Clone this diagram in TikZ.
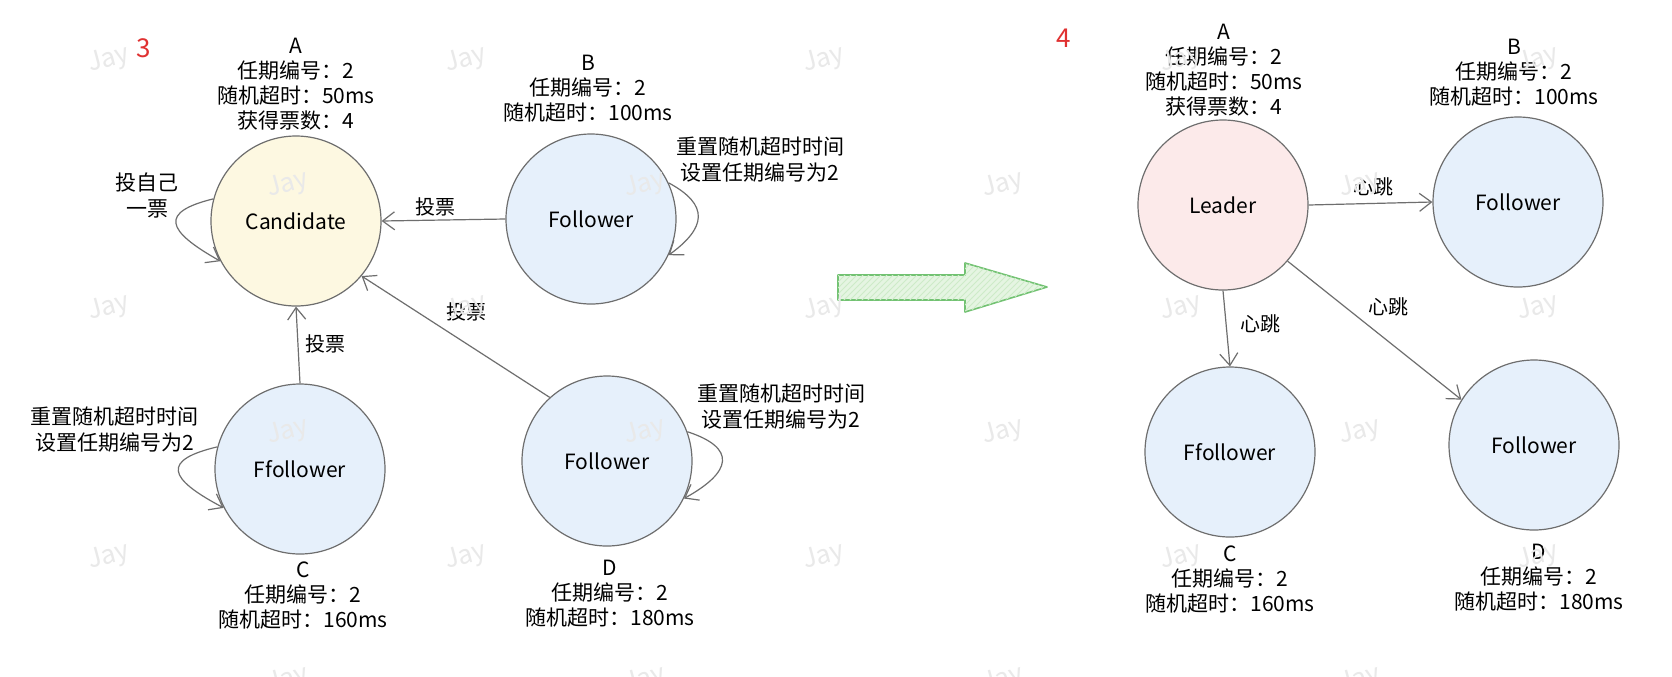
\documentclass[tikz,border=0pt]{standalone}
\usepackage{fontspec}
\setmainfont{Noto Sans CJK SC}
\usetikzlibrary{arrows.meta,patterns}

\definecolor{edgegray}{HTML}{6E6E6E}
\definecolor{candfill}{HTML}{FDF8E1}
\definecolor{follfill}{HTML}{E6F0FB}
\definecolor{leadfill}{HTML}{FCEAEA}
\definecolor{arrowgreen}{HTML}{72C272}
\definecolor{arrowfill}{HTML}{E5F5E2}
\definecolor{hatchgreen}{HTML}{CDEBC8}
\definecolor{markred}{HTML}{E03131}
\definecolor{wmgray}{HTML}{E9E9E9}

\begin{document}
\begin{tikzpicture}[x=0.5pt,y=-0.5pt,
  stnode/.style={circle, draw=edgegray, line width=0.6pt, minimum size=85pt,
    inner sep=0pt, font=\fontsize{10.5}{12}\selectfont},
  info/.style={align=center, font=\fontsize{10.5}{12.5}\selectfont, inner sep=0pt},
  note/.style={align=center, font=\fontsize{10.5}{13}\selectfont, inner sep=0pt},
  link/.style={draw=edgegray, line width=0.6pt, -{Straight Barb[length=6pt,width=9pt]}},
  linklabel/.style={font=\fontsize{10}{12}\selectfont, inner sep=0pt},
  stepnum/.style={text=markred, font=\fontsize{13}{15}\selectfont, inner sep=0pt},
  wmark/.style={text=wmgray, rotate=15, font=\fontsize{13}{15}\selectfont, inner sep=0pt},
]
\useasboundingbox (0,0) rectangle (1672,676);
\fill[white] (0,0) rectangle (1672,676);

% ---------------- step 3: election ----------------
\node[stepnum] (n3) at (144,48) {3};

\node[stnode, fill=candfill] (cand) at (296,221) {Candidate};
\node[stnode, fill=follfill] (fb) at (591,219) {Follower};
\node[stnode, fill=follfill] (fc) at (300,469) {Ffollower};
\node[stnode, fill=follfill] (fd) at (607,461) {Follower};

\node[info] (ia) at (296,84) {A\\任期编号：2\\随机超时：50ms\\获得票数：4};
\node[info] (ib) at (588,89) {B\\任期编号：2\\随机超时：100ms};
\node[info] (ic) at (303,596) {C\\任期编号：2\\随机超时：160ms};
\node[info] (id) at (610,594) {D\\任期编号：2\\随机超时：180ms};

\node[note] (self) at (147,196) {投自己\\一票};
\node[note] (nb) at (760,160) {重置随机超时时间\\设置任期编号为2};
\node[note] (nc) at (115,430) {重置随机超时时间\\设置任期编号为2};
\node[note] (nd) at (781,407) {重置随机超时时间\\设置任期编号为2};

% votes towards the candidate
\draw[link] (fb.west) -- (cand.east);
\draw[link] (fc.north) -- (cand.south);
\draw[link] (fd.132) -- (cand.-40);
\node[linklabel] (vb) at (435,207) {投票};
\node[linklabel] (vc) at (325,344) {投票};
\node[linklabel] (vd) at (466,312) {投票};

% self loops
\draw[link] (cand.165) .. controls (160,212) and (165,230) .. (cand.208);
\draw[link] (fb.25) .. controls (710,205) and (706,228) .. (fb.-25);
\draw[link] (fc.165) .. controls (162,460) and (167,478) .. (fc.207);
\draw[link] (fd.20) .. controls (737,448) and (732,472) .. (fd.-26);

% ---------------- transition arrow ----------------
\draw[arrowgreen, line width=0.8pt, line join=round, fill=arrowfill,
  postaction={pattern=north east lines, pattern color=hatchgreen}]
  (838,275) -- (965,275) -- (965,263) -- (1047,287) -- (965,312)
  -- (965,300) -- (838,300) -- cycle;

% ---------------- step 4: leader elected ----------------
\node[stepnum] (n4) at (1064,38) {4};

\node[stnode, fill=leadfill] (lead) at (1223,205) {Leader};
\node[stnode, fill=follfill] (rb) at (1518,202) {Follower};
\node[stnode, fill=follfill] (rc) at (1230,452) {Ffollower};
\node[stnode, fill=follfill] (rd) at (1534,445) {Follower};

\node[info] (ra) at (1224,70) {A\\任期编号：2\\随机超时：50ms\\获得票数：4};
\node[info] (rbi) at (1514,73) {B\\任期编号：2\\随机超时：100ms};
\node[info] (rci) at (1230,580) {C\\任期编号：2\\随机超时：160ms};
\node[info] (rdi) at (1539,578) {D\\任期编号：2\\随机超时：180ms};

% heartbeats
\draw[link] (lead.east) -- (rb.west);
\draw[link] (lead.south) -- (rc.north);
\draw[link] (lead.-41) -- (rd.148);
\node[linklabel] (hb) at (1373,187) {心跳};
\node[linklabel] (hc) at (1260,324) {心跳};
\node[linklabel] (hd) at (1388,307) {心跳};

% ---------------- watermark ----------------
\begin{scope}
\clip (0,0) rectangle (1672,676);
\foreach \y in {60,308,557}
  \foreach \x in {109,466,824,1181,1538}
    \node[wmark] at (\x,\y) {Jay};
\foreach \y in {185,432,680}
  \foreach \x in {288,645,1003,1360}
    \node[wmark] at (\x,\y) {Jay};
\end{scope}
\end{tikzpicture}
\end{document}
